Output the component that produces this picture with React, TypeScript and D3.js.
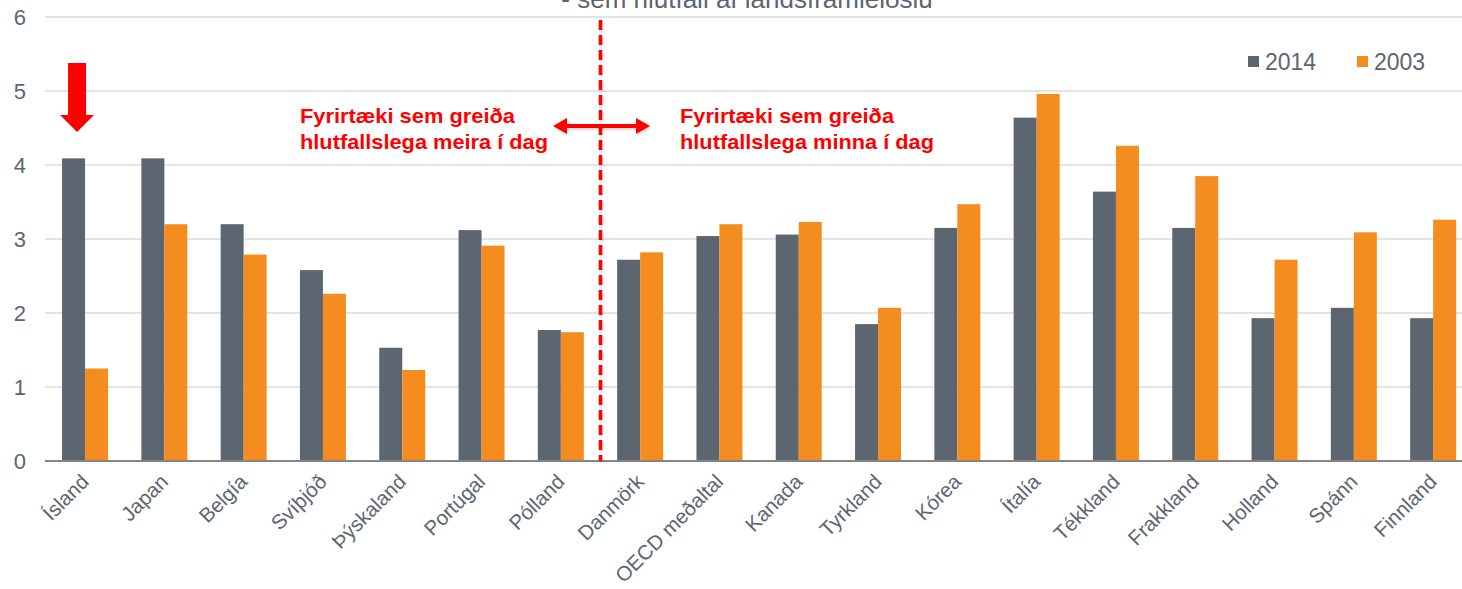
import React from "react";
import * as d3 from "d3";

const categories = ["Ísland","Japan","Belgía","Svíþjóð","Þýskaland","Portúgal","Pólland","Danmörk","OECD meðaltal","Kanada","Tyrkland","Kórea","Ítalía","Tékkland","Frakkland","Holland","Spánn","Finnland"];
const series = ["2014","2003"];
const values2014 = [4.09,4.09,3.2,2.58,1.53,3.12,1.77,2.72,3.04,3.06,1.85,3.15,4.64,3.64,3.15,1.93,2.07,1.93];
const values2003 = [1.25,3.2,2.79,2.26,1.23,2.91,1.74,2.82,3.2,3.23,2.07,3.47,4.96,4.26,3.85,2.72,3.09,3.26];
const yTicks = [0,1,2,3,4,5,6];
const colors = ["#5c6670","#f58c1f"];
const leftNote = ["Fyrirtæki sem greiða","hlutfallslega meira í dag"];
const rightNote = ["Fyrirtæki sem greiða","hlutfallslega minna í dag"];
const subtitle = "- sem hlutfall af landsframleiðslu";

const W = 1462, H = 589;
const FONT = "'Liberation Sans', Arial, sans-serif";
const TXT = "#5b6570";
const RED = "#ff0000";

export default function App() {
  const x = d3.scaleBand<string>().domain(categories).range([45.4, 1472.8]).paddingInner(0.42).paddingOuter(0.21);
  const xs = d3.scaleBand<string>().domain(series).range([0, x.bandwidth()]);
  const y = d3.scaleLinear().domain([0, 6]).range([461, 17]);
  const data = [values2014, values2003];

  const divX = ((x("Pólland") as number) + x.bandwidth() + (x("Danmörk") as number)) / 2;
  const arrowY = 126;
  const isl = (x("Ísland") as number) + 15;

  return (
    <svg width={W} height={H} style={{ position: "absolute", left: 0, top: 0, background: "#fff" }} fontFamily={FONT}>
      <defs>
        <filter id="sh" filterUnits="userSpaceOnUse" x={0} y={0} width={W} height={H}>
          <feDropShadow dx="1" dy="1.5" stdDeviation="1.5" floodColor="#000" floodOpacity="0.2" />
        </filter>
      </defs>
      <text x={747} y={8} textAnchor="middle" fontSize={26} fill={TXT}>{subtitle}</text>
      {yTicks.filter(t => t > 0).map(t => (
        <line key={t} x1={45} x2={W} y1={y(t)} y2={y(t)} stroke="#e4e4e4" strokeWidth={2} />
      ))}
      {yTicks.map(t => (
        <text key={t} x={26} y={y(t)} dy="0.36em" textAnchor="end" fontSize={22} fill={TXT}>{t}</text>
      ))}
      {categories.map((c, i) => (
        <g key={c} transform={`translate(${x(c)},0)`}>
          {series.map((s, j) => (
            <rect key={s} x={xs(s)} width={xs.bandwidth()} y={y(data[j][i])} height={y(0) - y(data[j][i])} fill={colors[j]} />
          ))}
        </g>
      ))}
      <line x1={45} x2={W} y1={y(0)} y2={y(0)} stroke="#858585" strokeWidth={2} />
      {categories.map(c => {
        const cx = (x(c) as number) + x.bandwidth() / 2 + 5;
        return (
          <text key={c} transform={`translate(${cx},483) rotate(-45)`} textAnchor="end" fontSize={20.5} fill={TXT}>{c}</text>
        );
      })}
      {/* divider */}
      <line x1={divX} x2={divX} y1={20} y2={461} stroke={RED} strokeWidth={3.5} strokeDasharray="10 5" filter="url(#sh)" />
      {/* double arrow */}
      <g filter="url(#sh)" fill={RED}>
        <rect x={566} y={arrowY - 2} width={71} height={4} />
        <polygon points={`553,${arrowY} 567,${arrowY - 8} 567,${arrowY + 8}`} />
        <polygon points={`650,${arrowY} 636,${arrowY - 8} 636,${arrowY + 8}`} />
      </g>
      {/* down arrow */}
      <polygon fill={RED} points={`${isl - 9},63 ${isl + 9},63 ${isl + 9},115 ${isl + 17},115 ${isl},132 ${isl - 17},115 ${isl - 9},115`} />
      {/* notes */}
      <g fontSize={21} fontWeight="bold" fill={RED}>
        <text x={300} y={123} textLength={215} lengthAdjust="spacingAndGlyphs">{leftNote[0]}</text>
        <text x={300} y={149} textLength={248} lengthAdjust="spacingAndGlyphs">{leftNote[1]}</text>
        <text x={680} y={123} textLength={214} lengthAdjust="spacingAndGlyphs">{rightNote[0]}</text>
        <text x={680} y={149} textLength={254} lengthAdjust="spacingAndGlyphs">{rightNote[1]}</text>
      </g>
      {/* legend */}
      {series.map((s, j) => {
        const lx = [1248, 1357][j];
        return (
          <g key={s}>
            <rect x={lx} y={56} width={11} height={11} fill={colors[j]} />
            <text x={lx + 17} y={62} dy="0.36em" fontSize={23} fill={TXT}>{s}</text>
          </g>
        );
      })}
    </svg>
  );
}
